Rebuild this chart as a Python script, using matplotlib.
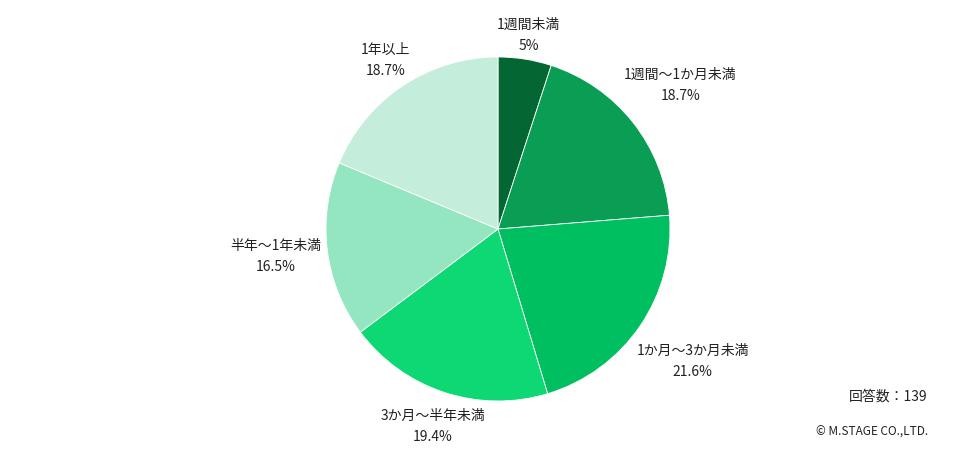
import numpy as np
import matplotlib
matplotlib.use('Agg')
import matplotlib.pyplot as plt

plt.rcParams['font.family'] = ['Noto Sans CJK JP', 'DejaVu Sans']

categories = ['1週間未満', '1週間〜1か月未満', '1か月〜3か月未満',
              '3か月〜半年未満', '半年〜1年未満', '1年以上']
values = [5, 18.7, 21.6, 19.4, 16.5, 18.7]
value_labels = ['5%', '18.7%', '21.6%', '19.4%', '16.5%', '18.7%']
colors = ['#036633', '#0a9e55', '#00bf60', '#0dd874', '#94e6c0', '#c5eddb']


def main():
    fig = plt.figure(figsize=(9.76, 4.59), dpi=100)
    ax = fig.add_axes([0, 0, 1, 1])

    cx, cy, r = 498, 230, 172
    wedges, _ = ax.pie(values, colors=colors, startangle=90, counterclock=False,
                       center=(cx, cy), radius=r, frame=True,
                       wedgeprops=dict(edgecolor='white', linewidth=0.6))
    ax.set_xlim(0, 976)
    ax.set_ylim(0, 459)
    ax.axis('off')

    # label distance per slice (times radius)
    dist = [1.14, 1.35, 1.37, 1.21, 1.30, 1.18]
    for w, cat, vl, d in zip(wedges, categories, value_labels, dist):
        ang = np.deg2rad((w.theta1 + w.theta2) / 2)
        x = cx + d * r * np.cos(ang)
        y = cy + d * r * np.sin(ang)
        ax.text(x, y, cat + '\n' + vl, ha='center', va='center',
                fontsize=10, linespacing=1.65, color='#222222')

    ax.text(928, 62, '回答数：139', ha='right', va='center', fontsize=10,
            color='#222222')
    ax.text(928, 27, '© M.STAGE CO.,LTD.', ha='right', va='center',
            fontsize=8.5, color='#222222')

    fig.savefig('out.png', dpi=100)


if __name__ == '__main__':
    main()
